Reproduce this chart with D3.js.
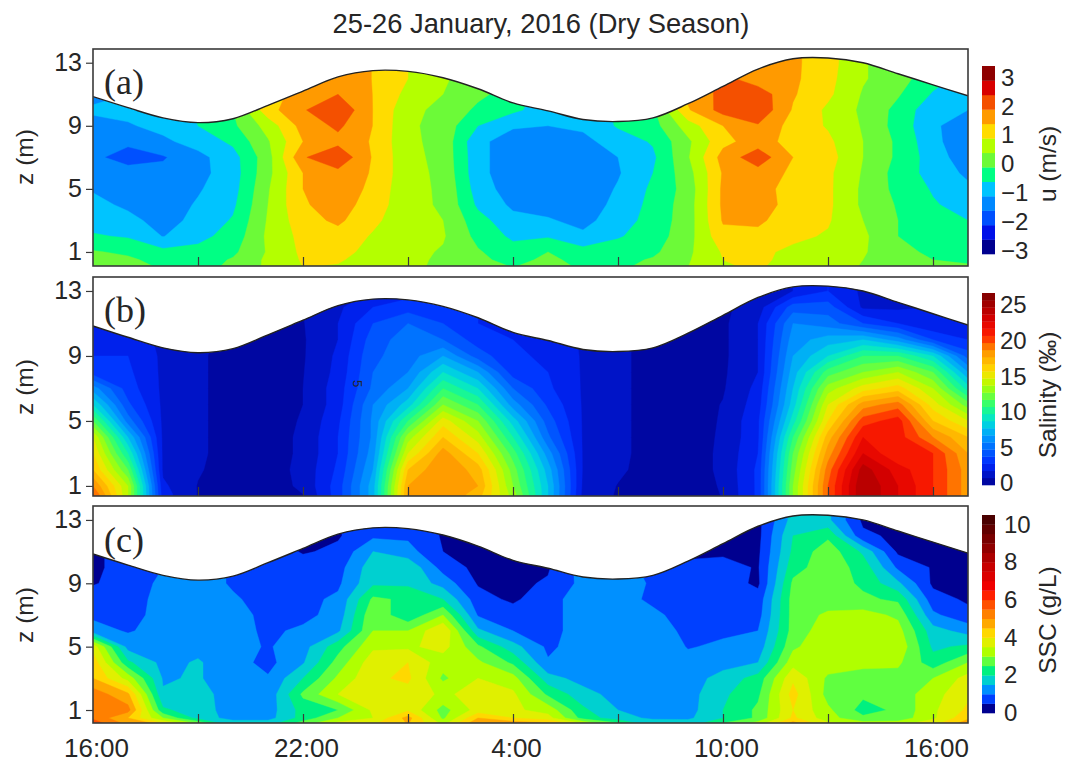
<!DOCTYPE html>
<html>
<head>
<meta charset="utf-8">
<script src="https://cdn.jsdelivr.net/npm/d3@7"></script>
<style>
  html, body { margin: 0; background: #fff; }
  text { font-family: "Liberation Sans", Arial, sans-serif; fill: #262626; }
</style>
</head>
<body>
<svg id="chart" width="1069" height="767"></svg>
<script>
// depth rows of every grid column, top to bottom
const zRows = [14, 13, 12, 11, 10, 9, 8, 7, 6, 5, 4, 3, 2, 1, 0.5, 0];
// hours after 16:00, one grid column per hour
const hours = d3.range(26);

const surface = [10.85, 10.15, 9.5, 9.2, 9.45, 10.3, 11.2, 12.1, 12.5, 12.45, 12.05, 11.35, 10.45,
  9.95, 9.4, 9.27, 9.5, 10.4, 11.5, 12.6, 13.25, 13.3, 13.0, 12.3, 11.6, 10.9];

const hourTicks = [3, 6, 9, 12, 15, 18, 21, 24];
const hourLabels = { 6: '22:00', 12: '4:00', 18: '10:00', 24: '16:00' };
const depthTicks = [1, 5, 9, 13];

// velocity, one line per hour
const uColumns = [
  [-1.2,-1.2,-1.2,-1.2,-.9,-1.2,-1.45,-1.45,-1.3,-1.05,-.85,-.7,-.45,.05,.2,.3],
  [-1.1,-1.1,-1.1,-1,-.85,-1.05,-1.45,-1.6,-1.4,-1.25,-1.1,-.85,-.55,-.1,.1,.2],
  [-.75,-.75,-.75,-.75,-.75,-.85,-1.1,-1.55,-1.35,-1.3,-1.25,-1.2,-1.02,-.35,-.2,-.05],
  [-.45,-.45,-.45,-.45,-.45,-.5,-.8,-1.15,-1.15,-1.05,-.95,-.85,-.65,-.35,-.25,-.15],
  [0,0,0,0,0,-.1,-.4,-.7,-.75,-.7,-.6,-.45,-.3,-.1,.05,.1],
  [1.3,1.3,1.3,1.3,1.3,.7,.45,.3,.35,.45,.5,.55,.6,.55,.6,.6],
  [1.7,1.7,1.7,1.7,1.95,1.7,1.5,1.95,1.5,1.5,1.45,1.3,1.15,1.1,1.05,1],
  [1.7,1.7,1.7,2,2.45,2.1,1.85,2.4,1.85,1.75,1.7,1.6,1.3,1.15,1.05,.95],
  [1.49,1.49,1.49,1.49,1.49,1.49,1.45,1.45,1.45,1.4,1.3,1.1,.95,.85,.8,.75],
  [1,1,1,.85,.65,.6,.6,.65,.65,.6,.62,.7,.7,.65,.65,.65],
  [.6,.6,.6,.5,.35,.3,.35,.35,.4,.45,.45,.5,.55,.45,.4,.35],
  [.1,.1,.1,.1,-.1,-.5,-.9,-.85,-.85,-.75,-.6,-.3,-.15,.05,.1,.1],
  [-.2,-.2,-.2,-.2,-.4,-.95,-1.2,-1.3,-1.3,-1.25,-1.1,-.85,-.6,-.3,-.15,0],
  [-.75,-.75,-.75,-.75,-.75,-1,-1.25,-1.3,-1.35,-1.35,-1.2,-.95,-.55,0,.1,.15],
  [-.85,-.85,-.85,-.85,-.85,-.9,-1.15,-1.3,-1.35,-1.35,-1.3,-1.15,-.9,-.3,-.15,-.05],
  [-.4,-.4,-.4,-.4,-.4,-.45,-.75,-1,-1.05,-.95,-.85,-.75,-.55,-.25,-.15,-.05],
  [0,0,0,0,-.1,-.2,-.45,-.6,-.5,-.4,-.35,-.3,-.25,-.1,.05,.1],
  [1.6,1.6,1.6,1.6,1.45,.75,.4,.45,.3,.2,.25,.25,.3,.4,.45,.5],
  [2.15,2.15,2.15,2.15,2.2,1.5,1.35,1.7,1.55,1.6,1.6,1.55,1.35,1.05,1,.95],
  [1.7,1.7,1.7,2.3,2.4,1.95,1.75,2.3,1.8,1.75,1.75,1.6,1.35,1.1,1.1,1.05],
  [1.6,1.6,1.6,1.55,1.45,1.3,1.3,1.5,1.4,1.25,1.3,1.2,1.1,.9,.85,.8],
  [1.2,1.2,1.15,1.1,.9,.95,1.1,1.2,1.1,1.1,1.1,1.05,.95,.8,.75,.75],
  [.55,.55,.55,.45,.4,.45,.5,.5,.45,.4,.4,.5,.6,.55,.5,.45],
  [.2,.2,.2,.05,-.15,-.2,-.1,-.1,-.2,-.15,-.05,0,0,.15,.2,.25],
  [-.3,-.3,-.3,-.55,-.85,-.9,-.85,-.75,-.7,-.55,-.45,-.35,-.25,-.1,0,.05],
  [-.7,-.7,-.7,-.7,-1,-1.35,-1.4,-1.3,-1.1,-.9,-.7,-.5,-.3,-.15,-.05,.05]
];

// salinity, one line per hour
const salinityColumns = [
  [1.8,1.8,1.8,1.8,2.5,3,3.5,6.5,9,12,15,16,17,19,20,21],
  [2,2,2,2,2.5,3,3.2,3.5,4.2,5.5,8,10,12,14,14,14],
  [1.8,1.8,1.8,1.8,1.8,1.8,1.8,1.8,1.8,1.8,1.8,1.8,1.8,2.2,2.4,2.5],
  [1.3,1.3,1.3,1.3,1.3,1.2,1.2,1.2,1.2,1.2,1.2,1.2,1.1,.95,.95,.9],
  [.5,.5,.5,.5,.5,.5,.5,.5,.5,.5,.5,.5,.5,.5,.5,.5],
  [.5,.5,.5,.5,.5,.5,.5,.5,.5,.5,.5,.5,.5,.5,.5,.5],
  [1,1,1,.95,.9,.9,.95,1,1,1.1,1.2,1.2,1.3,1.2,1,.95],
  [1.8,1.8,1.8,2,2,2.2,2.3,2.5,2.5,2.8,3,3,3.2,3.5,3.5,3.5],
  [2,2,3,4,4.5,4.8,5,5.2,6,6.2,6.2,6.5,7,7.5,7.5,7.5],
  [2.5,2.5,3.5,5,5.5,5.5,6,7,8.5,11,13.5,15,17,18,18.2,18.2],
  [3,3,3,4,5,7,9,11,13,15.5,17,18.5,19,19,19,19],
  [3,3,3,3,3.5,4.5,7,9,11,13,14.5,16,17.5,18,17.5,17],
  [2.5,2.5,2.5,2.5,3,3.2,3.5,5,6.5,8.5,10,11.5,12.5,13,13.5,13.5],
  [2.5,2.5,2.5,2.5,2.5,2.8,3,3.2,3.8,4.5,5.2,6.5,7.5,8,8,8],
  [1.9,1.9,1.9,1.9,1.9,1.9,1.9,1.9,1.9,1.9,1.9,1.9,1.9,1.8,1.7,1.7],
  [1.3,1.3,1.3,1.3,1.3,1.3,1.3,1.3,1.3,1.3,1.3,1.3,1.2,.95,.9,.9],
  [.5,.5,.5,.5,.5,.5,.5,.5,.5,.5,.5,.5,.5,.5,.5,.5],
  [.5,.5,.5,.5,.5,.5,.5,.5,.5,.5,.5,.5,.5,.5,.5,.5],
  [.8,.8,.8,.8,.8,.8,.85,.9,1.05,1.1,1.15,1.2,1.2,1.1,1.05,1],
  [1.5,1.5,1.5,2,2,2,2,2.3,2.5,2.8,2.8,3,3.2,3.2,3.2,3.2],
  [2,2,4.5,6,6.5,7,7.5,8,8.5,9.5,11,12,12.5,13,13,13],
  [3,3,4.5,5.5,7.5,9,11.5,13.5,15,16,17.5,18.5,19.5,20,20,20],
  [1.8,1.8,1.8,4,8,11,13,15.5,18.5,20.5,22,23,24.5,25,25,25],
  [1.8,1.8,1.8,3,6.5,11,14,16.5,19.5,21.5,21.5,21,22.5,23,23,23],
  [2,2,2,2,4,9,12,14,15.5,17,19,21,21,21,21,21],
  [2,2,2,2,3,4.5,7,9.5,12.5,15,17,18,18.5,18.5,18.5,18.5]
];

// suspended sediment, one line per hour
const sscColumns = [
  [.4,.4,.4,.4,.4,.45,.8,.9,1.2,3.8,4.3,4.5,5.3,5.3,5.4,6],
  [.7,.7,.7,.7,.7,.75,.8,.85,.95,1.3,2.1,3.3,4.6,5.2,4.5,5],
  [1,1,1,1,1,1.1,1.15,1.15,1.2,1.25,1.35,1.45,1.55,2.1,3,4.5],
  [1.2,1.2,1.2,1.2,1.2,1.2,1.2,1.2,1.25,1.35,1.55,1.55,1.7,1.7,1.8,3.5],
  [.95,.95,.95,.95,.95,.95,1.05,1.2,1.2,1.2,1.2,1.2,1.25,1.3,1.3,2],
  [.8,.8,.8,.8,.8,.8,.85,.85,.9,.95,.85,1.05,1.15,1.25,1.3,2],
  [.45,.45,.45,.45,.75,.8,.85,.85,1.1,1.3,1.45,2,2.6,2.2,2.2,3],
  [.45,.45,.45,.6,.8,.9,1.1,1.2,1.4,2.3,2.7,3.1,3.5,2.5,3,4],
  [.8,.8,.9,1.5,1.8,1.9,2.6,2.9,3,3.4,3.8,3.9,3.9,3.6,3.5,4],
  [.9,.9,.9,1.2,1.9,1.9,2.4,2.1,3,3.4,4,4.1,3.8,3.9,4.7,4.5],
  [.45,.45,.45,.5,.8,1.3,2,3,4,3.7,3.2,2.9,3.4,2.8,2.9,3.5],
  [.3,.3,.3,.3,.35,.45,.7,.95,1.6,2.6,3.1,3.5,3.7,3.7,4.5,5.2],
  [.35,.35,.35,.35,.35,.4,.4,.75,1,1.7,2.4,3.2,3.6,3.6,4,5.2],
  [.45,.45,.45,.45,.45,.55,.85,.85,.85,.9,1.05,1.7,2.4,3.3,3.7,5],
  [1.2,1.2,1.2,1.2,1.2,1.15,1.2,1.2,1.2,1.25,1.25,1.3,1.7,2.1,2.3,4],
  [1.2,1.2,1.2,1.2,1.2,1.2,1.2,1.2,1.2,1.25,1.25,1.25,1.3,1.5,1.7,3],
  [.85,.85,.85,.85,.85,.95,.9,1.1,1.2,1.25,1.25,1.3,1.3,1.35,1.4,2],
  [.45,.45,.45,.45,.55,.7,.75,.8,.9,.98,1.1,1.25,1.3,1.3,1.4,1.9],
  [.4,.4,.4,.4,.7,.75,.8,.85,.95,1.05,1.3,1.7,1.9,2,2,2.8],
  [.35,.35,.35,.4,.45,.4,.7,.8,1,1.2,1.5,2.2,2.4,2.6,2.6,3.5],
  [1.7,1.7,2,2.1,2.3,2.6,2.7,2.7,2.7,2.9,3.3,3.9,4.2,4,4.1,5],
  [1.6,1.6,2.4,2.8,2.8,2.8,2.7,3.1,3.3,3.4,3.3,2.9,2.8,3.1,3.2,3.8],
  [.4,.4,.6,1.9,2.3,2.4,2.6,3.2,3.4,3.4,3.2,2.7,2.6,2.3,2.6,3.5],
  [.4,.4,.4,.4,.9,1.6,2.4,2.9,3.2,3.4,3.1,2.8,2.7,2.6,2.7,3.5],
  [.4,.4,.4,.4,.45,.4,.7,1.1,1.7,1.9,2.2,3,3.3,3.4,3.4,4],
  [.35,.35,.35,.35,.4,.4,.42,.65,1.3,2.1,3,3.7,3.9,4.1,4.4,5]
];

const uLevels = d3.range(-3, 3.5, 0.5);
const uColors = ['#00008f', '#0010e8', '#0050ff', '#0088ff', '#00c4ff', '#00ff84', '#6cfa38',
  '#b4ff00', '#ffdc00', '#ff9a00', '#f45000', '#d80000', '#8e0000'];

const salinityLevels = d3.range(0, 27, 1);
const salinityStops = [0, 3, 7, 9, 11, 14, 16, 19, 21, 23, 27];
const salinityRamp = ['#00008f', '#0028ff', '#00a0ff', '#00e0d8', '#20ff80', '#b0ff00', '#ffe000',
  '#ff9000', '#ff2000', '#e00000', '#7a0000'];

const sscLevels = d3.range(0, 10.5, 0.5);
const sscStops = [0.25, 0.75, 1.25, 1.75, 2.25, 2.75, 3.25, 3.75, 4.25, 4.75, 5.25, 5.75, 6.25, 6.75, 7.75, 8.75, 10.25];
const sscRamp = ['#00008f', '#0040ff', '#0090ff', '#00d0d0', '#00f080', '#60ff40', '#b0ff00', '#e0f000',
  '#ffd800', '#ffa800', '#ff8000', '#ff5000', '#ff2000', '#f00000', '#c80000', '#900000', '#4a0000'];

const salinityScale = d3.scaleLinear().domain(salinityStops).range(salinityRamp);
const sscScale = d3.scaleLinear().domain(sscStops).range(sscRamp);

const panels = [
  {
    tag: '(a)', columns: uColumns, levels: uLevels, step: 0.5,
    colors: uColors, top: 49, bottom: 266, zTop: 13.87, zBottom: 0.11, tagY: 94,
    barTop: 66, barBottom: 254, barMax: 3.5, barTicks: [-3, -2, -1, 0, 1, 2, 3], barDy: -3,
    barLabel: 'u (m/s)', barLabelY: 164, barTextX: 1001, zLabelY: 157
  },
  {
    tag: '(b)', columns: salinityColumns, levels: salinityLevels, step: 1,
    colors: salinityLevels.map(v => salinityScale(v + 0.5)), top: 277, bottom: 496, zTop: 13.86, zBottom: 0.38, tagY: 322,
    barTop: 293, barBottom: 485, barMax: 27, barTicks: [0, 5, 10, 15, 20, 25], barDy: -2,
    barLabel: 'Salinity (‰)', barLabelY: 395, barTextX: 1000, zLabelY: 387
  },
  {
    tag: '(c)', columns: sscColumns, levels: sscLevels, step: 0.5,
    colors: sscLevels.map(v => sscScale(v + 0.25)), top: 506, bottom: 723, zTop: 13.88, zBottom: 0.18, tagY: 552,
    barTop: 515, barBottom: 713, barMax: 10.5, barTicks: [0, 2, 4, 6, 8, 10], barDy: 0,
    barLabel: 'SSC (g/L)', barLabelY: 620, barTextX: 1004, zLabelY: 615
  }
];

const frameLeft = 93;
const frameRight = 968;

const svg = d3.select('#chart');
const x = d3.scaleLinear().domain([0, 25]).range([frameLeft, frameRight]);

// contour output puts grid nodes at index + 0.5
const rowToZ = d3.scaleLinear().domain(zRows.map((z, i) => i + 0.5)).range(zRows);

svg.append('text')
  .attr('x', 541).attr('y', 33)
  .attr('text-anchor', 'middle')
  .attr('font-size', 27.3)
  .text('25-26 January, 2016 (Dry Season)');

panels.forEach((panel, index) => {
  const y = d3.scaleLinear().domain([panel.zBottom, panel.zTop]).range([panel.bottom, panel.top]);
  const g = svg.append('g');

  const clipId = 'clip' + index;
  g.append('clipPath').attr('id', clipId).append('rect')
    .attr('x', frameLeft).attr('y', panel.top)
    .attr('width', frameRight - frameLeft).attr('height', panel.bottom - panel.top);

  const plot = g.append('g').attr('clip-path', `url(#${clipId})`);

  // flatten hour columns to the row order d3.contours wants
  const values = [];
  zRows.forEach((z, r) => hours.forEach(h => values.push(panel.columns[h][r])));

  const contours = d3.contours().size([hours.length, zRows.length]).thresholds(panel.levels);
  const path = d3.geoPath(d3.geoTransform({
    point(cx, cy) {
      this.stream.point(x(cx - 0.5), y(rowToZ(cy)));
    }
  }));

  plot.append('rect')
    .attr('x', frameLeft).attr('y', panel.top)
    .attr('width', frameRight - frameLeft).attr('height', panel.bottom - panel.top)
    .attr('fill', panel.colors[0]);

  plot.selectAll('path.band')
    .data(contours(values))
    .join('path')
    .attr('class', 'band')
    .attr('d', path)
    .attr('fill', d => panel.colors[panel.levels.indexOf(d.value)])
    .attr('stroke', d => panel.colors[panel.levels.indexOf(d.value)])
    .attr('stroke-width', 0.4);

  // white sky over the water surface
  const sky = d3.area()
    .x((d, i) => x(hours[i]))
    .y0(panel.top - 2)
    .y1(d => y(d))
    .curve(d3.curveCatmullRom);
  plot.append('path').attr('d', sky(surface)).attr('fill', '#fff');

  const surfaceLine = d3.line()
    .x((d, i) => x(hours[i]))
    .y(d => y(d))
    .curve(d3.curveCatmullRom);
  plot.append('path').attr('d', surfaceLine(surface))
    .attr('fill', 'none').attr('stroke', '#222').attr('stroke-width', 1.4);

  g.append('rect')
    .attr('x', frameLeft).attr('y', panel.top)
    .attr('width', frameRight - frameLeft).attr('height', panel.bottom - panel.top)
    .attr('fill', 'none').attr('stroke', '#3a3a3a').attr('stroke-width', 1.6);

  const left = g.append('g')
    .attr('transform', `translate(${frameLeft},0)`)
    .call(d3.axisLeft(y).tickValues(depthTicks).tickSize(7).tickPadding(4).tickFormat(d3.format('d')));
  left.select('.domain').remove();
  left.selectAll('line').attr('stroke', '#3a3a3a').attr('stroke-width', 1.2);
  left.selectAll('text').attr('font-size', 25).attr('font-family', '"Liberation Sans", Arial, sans-serif');

  const bottom = g.append('g')
    .attr('transform', `translate(0,${panel.bottom})`)
    .call(d3.axisBottom(x).tickValues(hourTicks).tickSize(-9).tickFormat(() => ''));
  bottom.select('.domain').remove();
  bottom.selectAll('line').attr('stroke', '#3a3a3a').attr('stroke-width', 1.2);

  g.append('text')
    .attr('x', 104).attr('y', panel.tagY)
    .attr('font-size', 36)
    .style('font-family', '"Liberation Serif", "Times New Roman", serif')
    .text(panel.tag);

  g.append('text')
    .attr('transform', `translate(33,${panel.zLabelY}) rotate(-90)`)
    .attr('text-anchor', 'middle')
    .attr('font-size', 24.5)
    .text('z (m)');

  // colour bar
  const bar = d3.scaleLinear()
    .domain([panel.levels[0], panel.barMax])
    .range([panel.barBottom, panel.barTop]);
  g.selectAll('rect.swatch')
    .data(panel.levels)
    .join('rect')
    .attr('class', 'swatch')
    .attr('x', 982).attr('width', 13)
    .attr('y', d => bar(d + panel.step))
    .attr('height', d => bar(d) - bar(d + panel.step) + 0.3)
    .attr('fill', (d, i) => panel.colors[i]);

  const barAxis = g.append('g')
    .attr('transform', `translate(${panel.barTextX},0)`)
    .call(d3.axisRight(bar).tickValues(panel.barTicks).tickSize(0).tickPadding(0).tickFormat(d3.format('d')));
  barAxis.select('.domain').remove();
  barAxis.selectAll('text')
    .attr('font-size', 24)
    .attr('font-family', '"Liberation Sans", Arial, sans-serif')
    .attr('transform', `translate(0,${panel.barDy})`);

  g.append('text')
    .attr('transform', `translate(1056,${panel.barLabelY}) rotate(-90)`)
    .attr('text-anchor', 'middle')
    .attr('font-size', 24.5)
    .text(panel.barLabel);
});

// stray contour label left in panel b
svg.append('text')
  .attr('transform', 'translate(353,380) rotate(90)')
  .attr('font-size', 13)
  .text('5');

// time labels under the last panel
const lastBottom = panels[2].bottom;
const timeAxis = svg.append('g')
  .attr('transform', `translate(3,${lastBottom})`)
  .call(d3.axisBottom(x).tickValues([0].concat(Object.keys(hourLabels).map(Number)))
    .tickSize(0).tickPadding(16).tickFormat(h => hourLabels[h] || '16:00'));
timeAxis.select('.domain').remove();
timeAxis.selectAll('text')
  .attr('font-size', 26)
  .attr('font-family', '"Liberation Sans", Arial, sans-serif');
</script>
</body>
</html>
